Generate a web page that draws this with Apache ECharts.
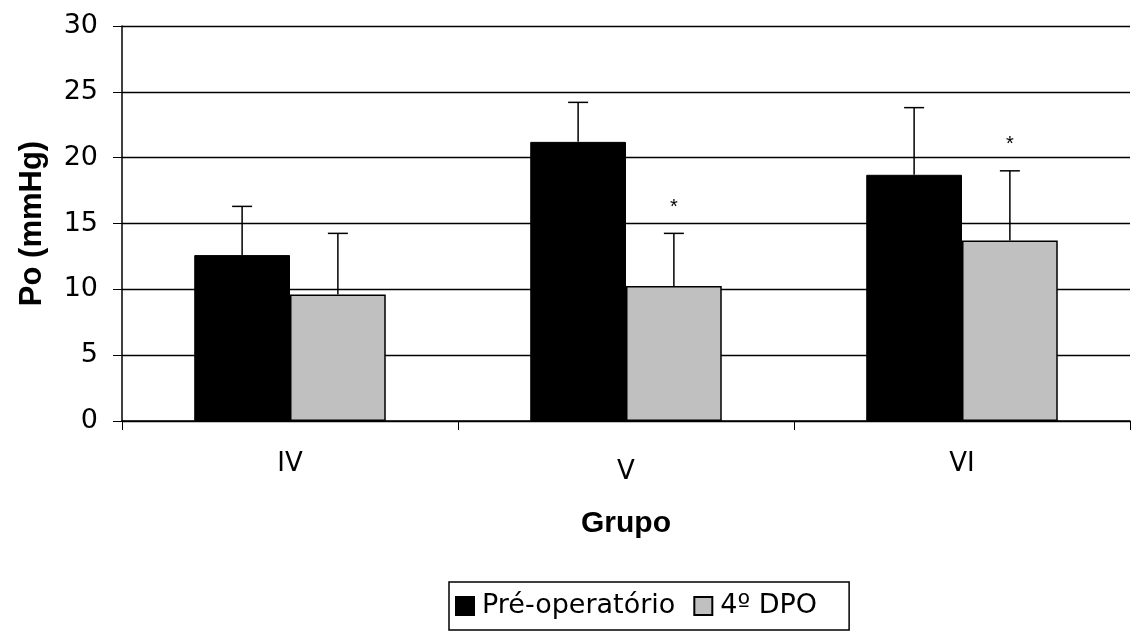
<!DOCTYPE html>
<html><head><meta charset="utf-8">
<script src="https://cdn.jsdelivr.net/npm/echarts@6/dist/echarts.min.js"></script>
<style>html,body{margin:0;padding:0;background:#fff}#c{width:1131px;height:636px}</style>
</head><body><div id="c"></div>
<script>
const categories = ['IV', 'V', 'VI'];
const preOp = [12.6, 21.2, 18.7];
const preOpErr = [3.7, 3.0, 5.1];
const dpo4 = [9.6, 10.25, 13.7];
const dpo4Err = [4.65, 4.0, 5.3];
const dpo4Sig = ['', '*', '*'];
const yTicks = [0, 5, 10, 15, 20, 25, 30];

const chart = echarts.init(document.getElementById('c'));
const F = '"Liberation Sans", Arial, sans-serif';
const FW = '"DejaVu Sans", "Liberation Sans", sans-serif';

function errSeries(vals, errs, idx, marks) {
  return {
    type: 'custom',
    z: 5,
    silent: true,
    data: vals.map((v, i) => [i, v, v + errs[i], marks ? marks[i] : '']),
    renderItem: function (params, api) {
      const ci = api.value(0);
      const base = api.coord([ci, api.value(1)]);
      const top = api.coord([ci, api.value(2)]);
      const bw = api.size([1, 0])[0];
      const barW = bw * (1 - 0.43) / 2;
      const x = base[0] + (idx === 0 ? -barW / 2 : barW / 2);
      const cap = 10;
      const st = { stroke: '#000', lineWidth: 1.5 };
      const children = [
        { type: 'line', shape: { x1: x, y1: base[1], x2: x, y2: top[1] }, style: st },
        { type: 'line', shape: { x1: x - cap, y1: top[1], x2: x + cap, y2: top[1] }, style: st }
      ];
      const m = api.value(3);
      if (m) {
        children.push({ type: 'text', style: { text: m, x: x, y: top[1] - 26, align: 'center', verticalAlign: 'middle', font: '20px ' + F, fill: '#000' } });
      }
      return { type: 'group', children: children };
    }
  };
}

chart.setOption({
  animation: false,
  backgroundColor: '#fff',
  grid: { left: 122, right: 1, top: 26, bottom: 215 },
  legend: {
    left: 449, top: 582,
    padding: [9, 32, 9, 6],
    borderColor: '#000', borderWidth: 1.5,
    icon: 'rect',
    itemWidth: 18, itemHeight: 18, itemGap: 18,
    textStyle: { fontFamily: FW, fontSize: 27, color: '#000', lineHeight: 30, padding: [0, 0, 0, 3] },
    data: ['Pré-operatório', '4º DPO']
  },
  xAxis: {
    type: 'category', data: categories,
    name: 'Grupo', nameLocation: 'middle', nameGap: 88,
    nameTextStyle: { fontFamily: F, fontSize: 30, fontWeight: 'bold', color: '#000' },
    axisLine: { lineStyle: { color: '#000', width: 1.5 } },
    axisTick: { show: true, length: 9, lineStyle: { color: '#000' } },
    axisLabel: {
      fontFamily: FW, fontSize: 26, color: '#000', margin: 30,
      formatter: (v, i) => i === 1 ? '{low|' + v + '}' : '{up|' + v + '}',
      rich: {
        up: { fontFamily: FW, fontSize: 26, color: '#000' },
        low: { fontFamily: FW, fontSize: 26, color: '#000', padding: [8, 0, 0, 0] }
      }
    }
  },
  yAxis: {
    type: 'value', min: 0, max: 30, interval: 5,
    name: 'Po (mmHg)', nameLocation: 'middle', nameGap: 74,
    nameTextStyle: { fontFamily: F, fontSize: 31, fontWeight: 'bold', color: '#000' },
    axisLine: { show: true, lineStyle: { color: '#000', width: 1.5 } },
    axisTick: { show: true, length: 9, lineStyle: { color: '#000' } },
    axisLabel: { fontFamily: FW, fontSize: 27, color: '#000', margin: 24,
      formatter: v => yTicks.includes(v) ? String(v) : '' },
    splitLine: { lineStyle: { color: '#000', width: 1.3 } }
  },
  series: [
    { name: 'Pré-operatório', type: 'bar', data: preOp, barGap: '0%', barCategoryGap: '43%',
      itemStyle: { color: '#000', borderColor: '#000', borderWidth: 1 } },
    { name: '4º DPO', type: 'bar', data: dpo4,
      itemStyle: { color: '#c0c0c0', borderColor: '#000', borderWidth: 1.5 } },
    errSeries(preOp, preOpErr, 0, null),
    errSeries(dpo4, dpo4Err, 1, dpo4Sig)
  ]
});
</script></body></html>
